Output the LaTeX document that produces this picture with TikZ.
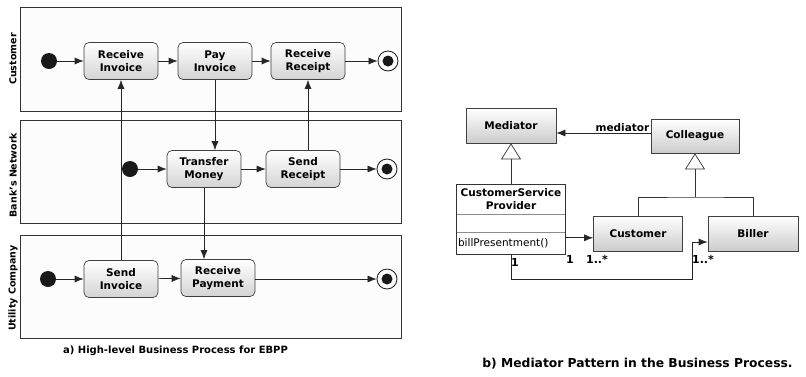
\documentclass[tikz,border=0pt]{standalone}
\usepackage{fontspec}
\setmainfont{DejaVu Sans}
\usetikzlibrary{arrows.meta,positioning}

\begin{document}
\begin{tikzpicture}[x=1pt,y=-1pt,
    every node/.style={font=\bfseries\fontsize{10.5}{13}\selectfont},
    lane/.style={draw=black!80, fill=black!1, line width=0.8pt},
    lanelabel/.style={rotate=90, font=\bfseries\fontsize{9.5}{11}\selectfont},
    action/.style={draw=black!75, rounded corners=5pt, top color=white, bottom color=black!17,
      minimum width=74, minimum height=37, align=center, line width=0.7pt, inner sep=1pt},
    initial/.style={circle, fill=black!90, minimum size=16, inner sep=0pt},
    final/.style={circle, draw=black!90, line width=0.8pt, minimum size=20, inner sep=0pt,
      path picture={\fill[black!90] (path picture bounding box.center) circle (5.5pt);}},
    flow/.style={-{Latex[length=9pt,width=7pt]}, line width=0.7pt, draw=black!85},
    umlclass/.style={draw=black!75, line width=0.7pt, top color=white, bottom color=black!20,
      minimum width=90, minimum height=35, inner sep=1pt},
    inherit/.style={-{Triangle[open,length=16pt,width=20pt]}, line width=0.7pt, draw=black!80},
    mult/.style={font=\bfseries\fontsize{11}{12}\selectfont, inner sep=1pt}
  ]
    \useasboundingbox (0,0) rectangle (806,376);

    % swimlanes
    \draw[lane] (20,7) rectangle (401,111);
    \draw[lane] (20,120) rectangle (401,223);
    \draw[lane] (20,235) rectangle (401,338);
    \node[lanelabel] (lcust) at (13,59) {Customer};
    \node[lanelabel] (lbank) at (13,175) {Bank's Network};
    \node[lanelabel] (lutil) at (13,288) {Utility Company};

    % customer lane
    \node[initial] (cstart) at (49,61) {};
    \node[action] (recinv) at (121,61) {Receive\\Invoice};
    \node[action] (payinv) at (215,61) {Pay\\Invoice};
    \node[action] (recrec) at (308,61) {Receive\\Receipt};
    \node[final] (cend) at (388,61) {};
    \draw[flow] (cstart) -- (recinv);
    \draw[flow] (recinv) -- (payinv);
    \draw[flow] (payinv) -- (recrec);
    \draw[flow] (recrec) -- (cend);

    % bank lane
    \node[initial] (bstart) at (130,169) {};
    \node[action] (transfer) at (204,169) {Transfer\\Money};
    \node[action] (sendrec) at (303,169) {Send\\Receipt};
    \node[final] (bend) at (387,169) {};
    \draw[flow] (bstart) -- (transfer);
    \draw[flow] (transfer) -- (sendrec);
    \draw[flow] (sendrec) -- (bend);

    % utility lane
    \node[initial] (ustart) at (48,279) {};
    \node[action] (sendinv) at (121,279) {Send\\Invoice};
    \node[action] (recpay) at (218,278) {Receive\\Payment};
    \node[final] (uend) at (387,279) {};
    \draw[flow] (ustart) -- (sendinv);
    \draw[flow] (sendinv) -- (recpay);
    \draw[flow] (recpay.east |- uend) -- (uend);

    % across the lanes
    \draw[flow] (sendinv) -- (recinv);
    \draw[flow] (payinv) -- (payinv |- transfer.north);
    \draw[flow] (recrec |- sendrec.north) -- (recrec);
    \draw[flow] (transfer.south) -- (transfer.south |- recpay.north);

    \node[font=\bfseries\fontsize{10}{12}\selectfont] (capa) at (175.5,351) {a) High-level Business Process for EBPP};

    % mediator pattern
    \node[umlclass] (mediator) at (511,125.5) {Mediator};
    \node[umlclass, minimum width=88, minimum height=34] (colleague) at (695,136) {Colleague};
    \node[umlclass, minimum width=89] (custc) at (638,233.5) {Customer};
    \node[umlclass] (biller) at (753,233.5) {Biller};

    \node[minimum width=109, minimum height=29, inner sep=1pt, align=center] (cspname) at (511,199.5)
      {CustomerService\\Provider};
    \node[minimum width=109, minimum height=18, inner sep=0pt, below=0pt of cspname] (cspattr) {};
    \node[minimum height=21, text width=106, inner xsep=1.5pt, inner ysep=0pt, align=left,
      font=\fontsize{10.5}{12}\selectfont, below=0pt of cspattr] (cspops) {billPresentment()};
    \draw[black!45, line width=0.7pt] (cspattr.north west) -- (cspattr.north east);
    \draw[black!45, line width=0.7pt] (cspops.north west) -- (cspops.north east);
    \draw[black!80, line width=0.8pt] (cspname.north west) rectangle (cspops.south east);

    \draw[inherit] (cspname) -- (mediator);
    \coordinate (join) at (695,197);
    \draw[black!80, line width=0.7pt] (custc.north) |- (join) -| (biller.north);
    \draw[inherit] (join) -- (colleague);

    \draw[flow] ([yshift=3pt]colleague.west) -- ([yshift=3pt]colleague.west -| mediator.east)
      node[at start, above left, inner sep=1pt] (medlabel) {mediator};
    \draw[flow] ([yshift=5.5pt]cspops.east) -- ([yshift=5.5pt]cspops.east -| custc.west);
    \node[mult] (m1) at (570,259) {1};
    \node[mult] (m2) at (597,259) {1..*};
    \coordinate (bend1) at (692,279);
    \draw[flow] (cspops.south) |- (bend1) |- ([yshift=-8.5pt]biller.west);
    \node[mult] (m3) at (515,262) {1};
    \node[mult] (m4) at (703,259) {1..*};

    \node[font=\bfseries\fontsize{12.3}{14}\selectfont] (capb) at (637.5,364) {b) Mediator Pattern in the Business Process.};
  \end{tikzpicture}
\end{document}
